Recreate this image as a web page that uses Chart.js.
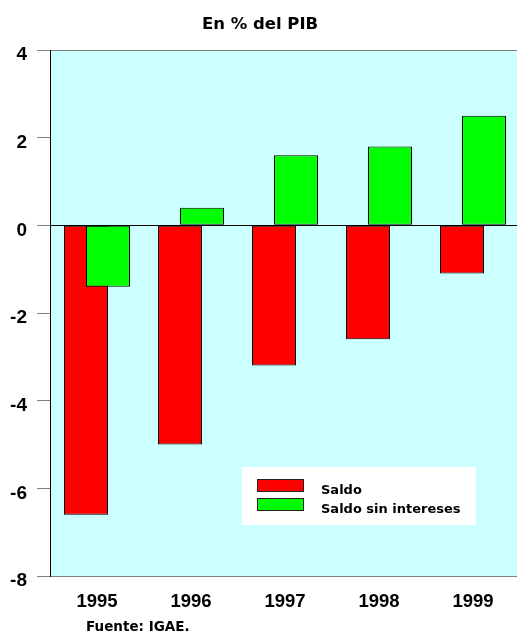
<!DOCTYPE html>
<html>
<head>
<meta charset="utf-8">
<script src="https://cdn.jsdelivr.net/npm/chart.js@4.4.1/dist/chart.umd.min.js"></script>
<style>
  html, body { margin: 0; padding: 0; background: #ffffff; overflow: hidden; }
  #wrap { position: absolute; left: 0; top: 0; width: 522px; height: 632px; }
</style>
</head>
<body>
<div id="wrap"><canvas id="c" width="522" height="632"></canvas></div>
<script>
// ---- data ----
const years = ['1995', '1996', '1997', '1998', '1999'];
const saldo = [-6.6, -5.0, -3.2, -2.6, -1.1];
const saldoSinIntereses = [-1.4, 0.4, 1.6, 1.8, 2.5];
const seriesNames = ['Saldo', 'Saldo sin intereses'];
const yTicks = [-8, -6, -4, -2, 0, 2, 4];
const titleText = 'En % del PIB';
const sourceText = 'Fuente: IGAE.';

const BOLD_SANS = '"DejaVu Sans", sans-serif';
const ARIAL = '"Liberation Sans", Arial, sans-serif';

// plot background
const bgPlugin = {
  id: 'plotBg',
  beforeDraw(chart) {
    const { ctx, chartArea: a } = chart;
    ctx.save();
    ctx.fillStyle = '#CCFFFF';
    ctx.fillRect(a.left, a.top, a.right - a.left, a.bottom - a.top);
    ctx.restore();
  }
};

// green bars drawn over red bars
const drawOrderPlugin = {
  id: 'drawOrder',
  beforeDatasetDraw(chart, args) {
    if (args.index === 0) return false;
    if (args.index === 1) {
      chart.getDatasetMeta(0).controller.draw();
    }
  }
};

// legend box inside plot + source note
const legendPlugin = {
  id: 'boxLegend',
  afterDatasetsDraw(chart) {
    const ctx = chart.ctx;
    ctx.save();
    ctx.fillStyle = '#ffffff';
    ctx.fillRect(242, 467, 234, 58);
    chart.data.datasets.forEach((ds, i) => {
      const y = 479 + i * 19;
      ctx.fillStyle = ds.backgroundColor;
      ctx.fillRect(257, y, 47, 13);
      ctx.strokeStyle = '#222222';
      ctx.lineWidth = 1;
      ctx.strokeRect(257.5, y + 0.5, 46, 12);
      ctx.fillStyle = '#000000';
      ctx.font = 'bold 13px ' + BOLD_SANS;
      ctx.textBaseline = 'alphabetic';
      ctx.textAlign = 'left';
      ctx.fillText(ds.label, 321, 494 + i * 19);
    });
    ctx.font = 'bold 13.5px ' + BOLD_SANS;
    ctx.fillText(sourceText, 86, 630.5);
    ctx.restore();
  }
};

new Chart(document.getElementById('c'), {
  type: 'bar',
  data: {
    labels: years,
    datasets: [
      {
        label: seriesNames[0],
        data: saldo,
        backgroundColor: '#FF0000',
        borderColor: '#000000',
        borderWidth: 1,
        borderSkipped: false
      },
      {
        label: seriesNames[1],
        data: saldoSinIntereses,
        backgroundColor: '#00FF00',
        borderColor: '#000000',
        borderWidth: 1,
        borderSkipped: false
      }
    ]
  },
  options: {
    responsive: false,
    animation: false,
    devicePixelRatio: 1,
    categoryPercentage: 44 / 94,
    barPercentage: 2,
    layout: { padding: { left: 0, right: 2, top: 0, bottom: 0 } },
    plugins: {
      legend: { display: false },
      tooltip: { enabled: false },
      title: {
        display: true,
        text: titleText,
        color: '#000000',
        font: { family: BOLD_SANS, size: 16.5, weight: 'bold' },
        padding: { top: 15, bottom: 15.2 }
      }
    },
    scales: {
      x: {
        offset: true,
        grid: { display: false, drawTicks: false },
        border: { display: false },
        ticks: {
          color: '#000000',
          font: { family: ARIAL, size: 18.5, weight: 'bold' },
          padding: 15,
          maxRotation: 0
        },
        afterFit(scale) { scale.height = 56; }
      },
      y: {
        min: -8,
        max: 4,
        afterBuildTicks(scale) { scale.ticks = yTicks.map(v => ({ value: v })); },
        grid: {
          drawTicks: true,
          tickLength: 13,
          tickColor: '#808080',
          color(ctx) {
            const v = ctx.tick && ctx.tick.value;
            if (v === 0) return '#000000';
            if (v === 4 || v === -8) return '#808080';
            return 'rgba(0,0,0,0)';
          },
          lineWidth: 1
        },
        border: { display: true, color: '#000000', width: 1 },
        ticks: {
          color: '#000000',
          font: { family: ARIAL, size: 19, weight: 'bold' },
          padding: 10,
          labelOffset: 5
        },
        afterFit(scale) { scale.width = 50; }
      }
    }
  },
  plugins: [bgPlugin, drawOrderPlugin, legendPlugin]
});
</script>
</body>
</html>
